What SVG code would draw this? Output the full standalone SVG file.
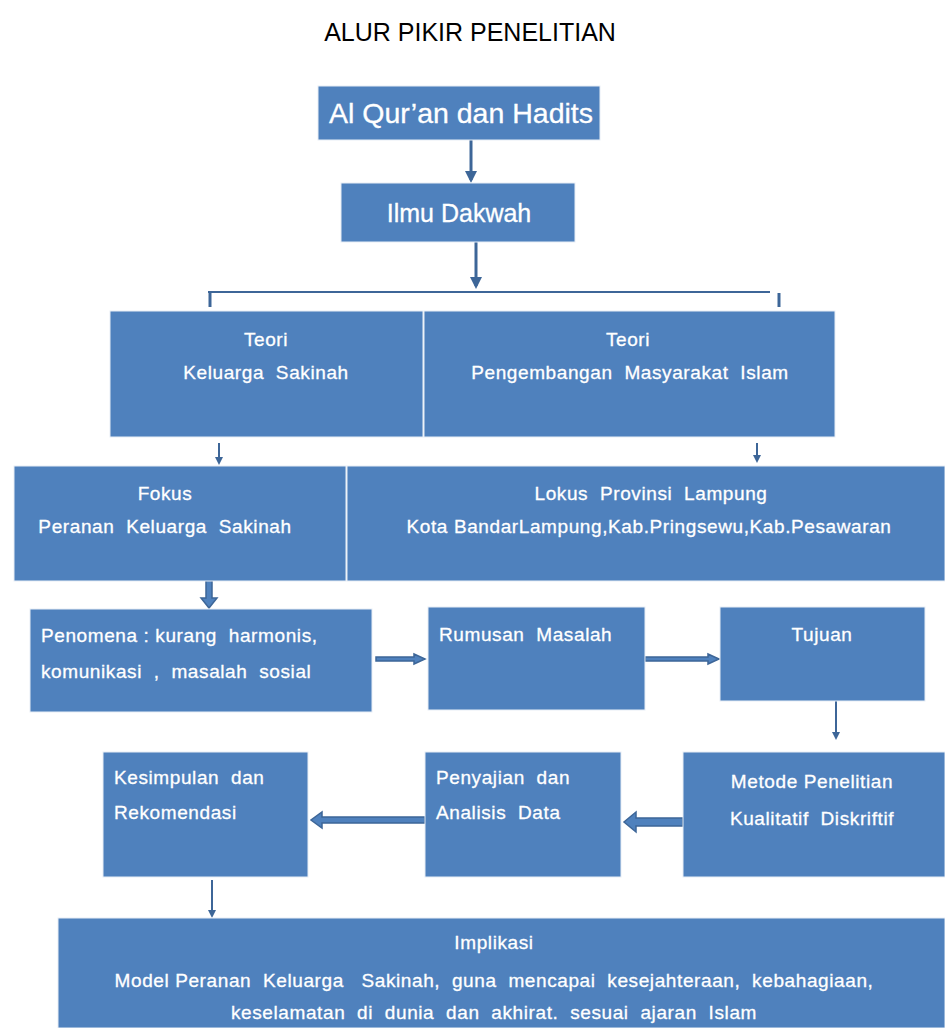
<svg xmlns="http://www.w3.org/2000/svg" width="945" height="1028" viewBox="0 0 945 1028">
<style>
.box{fill:#4f81bd;stroke:#e8eef6;stroke-width:1}
.t{fill:#ffffff;font-family:"Liberation Sans",Arial,sans-serif;font-size:19px;letter-spacing:0.6px;white-space:pre;stroke:#ffffff;stroke-width:0.3}
.c{text-anchor:middle}
.title{fill:#000;font-family:"Liberation Sans",Arial,sans-serif;font-size:25px;text-anchor:middle}
.ln{stroke:#3d6698;stroke-width:3;fill:none}
.thin{stroke:#3d6698;stroke-width:2;fill:none}
.blk{fill:#4f81bd;stroke:#3d6698;stroke-width:1.5}
</style>
<defs>
<marker id="ah" markerWidth="4" markerHeight="4" refX="3" refY="2" orient="auto" markerUnits="strokeWidth">
<path d="M0,0 L4,2 L0,4 Z" fill="#3d6698"/>
</marker>
</defs>
<rect width="945" height="1028" fill="#ffffff"/>
<text class="title" x="470" y="41">ALUR PIKIR PENELITIAN</text>

<g id="connectors">
<line class="ln" x1="471" y1="140" x2="471" y2="180" marker-end="url(#ah)"/>
<line class="ln" x1="476" y1="242" x2="476" y2="286" marker-end="url(#ah)"/>
<line class="thin" x1="208" y1="292" x2="770" y2="292"/>
<line class="ln" x1="210" y1="293" x2="210" y2="307"/>
<line class="ln" x1="779" y1="293" x2="779" y2="307"/>
<line class="thin" x1="219" y1="443" x2="219" y2="463" marker-end="url(#ah)"/>
<line class="thin" x1="757" y1="443" x2="757" y2="461" marker-end="url(#ah)"/>
<path class="blk" d="M206,555 L212,555 L212,598 L217,598 L209,608 L201,598 L206,598 Z"/>
<path class="blk" d="M376,657 L414,657 L414,654 L425,659 L414,664 L414,661 L376,661 Z"/>
<path class="blk" d="M645,657 L708,657 L708,654 L719,659 L708,664 L708,661 L645,661 Z"/>
<line class="thin" x1="836" y1="690" x2="836" y2="738" marker-end="url(#ah)"/>
<path class="blk" d="M683,818 L636,818 L636,812 L624,822 L636,832 L636,826 L683,826 Z"/>
<path class="blk" d="M425,817 L322,817 L322,812 L311,820 L322,828 L322,823 L425,823 Z"/>
<line class="thin" x1="212" y1="880" x2="212" y2="916" marker-end="url(#ah)"/>
</g>

<g id="n-quran"><rect class="box" x="318" y="86" width="282" height="54"/><text class="t c" x="461" y="123" style="font-size:28.5px;letter-spacing:0">Al Qur’an dan Hadits</text></g>
<g id="n-dakwah"><rect class="box" x="341" y="183" width="234" height="59"/><text class="t c" x="459" y="222" style="font-size:25px;letter-spacing:0">Ilmu Dakwah</text></g>
<g id="n-teori1"><rect class="box" x="110" y="311" width="313" height="126"/><text class="t c" x="266" y="346">Teori</text><text class="t c" x="266" y="379">Keluarga  Sakinah</text></g>
<g id="n-teori2"><rect class="box" x="424" y="311" width="411" height="126"/><text class="t c" x="628" y="346">Teori</text><text class="t c" x="630" y="379">Pengembangan  Masyarakat  Islam</text></g>
<g id="n-fokus"><rect class="box" x="14" y="466" width="332" height="115"/><text class="t c" x="165" y="500">Fokus</text><text class="t c" x="165" y="533">Peranan  Keluarga  Sakinah</text></g>
<g id="n-lokus"><rect class="box" x="347" y="466" width="598" height="115"/><text class="t c" x="651" y="500">Lokus  Provinsi  Lampung</text><text class="t c" x="649" y="533">Kota BandarLampung,Kab.Pringsewu,Kab.Pesawaran</text></g>
<g id="n-penomena"><rect class="box" x="30" y="609" width="342" height="103"/><text class="t" x="41" y="642">Penomena : kurang  harmonis,</text><text class="t" x="41" y="678">komunikasi  ,  masalah  sosial</text></g>
<g id="n-rumusan"><rect class="box" x="428" y="607" width="217" height="103"/><text class="t" x="439" y="641">Rumusan  Masalah</text></g>
<g id="n-tujuan"><rect class="box" x="720" y="607" width="205" height="94"/><text class="t c" x="822" y="641">Tujuan</text></g>
<g id="n-metode"><rect class="box" x="683" y="752" width="262" height="125"/><text class="t c" x="812" y="788">Metode Penelitian</text><text class="t c" x="812" y="825">Kualitatif  Diskriftif</text></g>
<g id="n-penyajian"><rect class="box" x="425" y="752" width="196" height="125"/><text class="t" x="436" y="784">Penyajian  dan</text><text class="t" x="436" y="819">Analisis  Data</text></g>
<g id="n-kesimpulan"><rect class="box" x="103" y="752" width="205" height="125"/><text class="t" x="114" y="784">Kesimpulan  dan</text><text class="t" x="114" y="819">Rekomendasi</text></g>
<g id="n-implikasi"><rect class="box" x="58" y="918" width="887" height="110"/><text class="t c" x="494" y="949">Implikasi</text><text class="t c" x="494" y="987">Model Peranan  Keluarga   Sakinah,  guna  mencapai  kesejahteraan,  kebahagiaan,</text><text class="t c" x="494" y="1019">keselamatan  di  dunia  dan  akhirat.  sesuai  ajaran  Islam</text></g>
</svg>
